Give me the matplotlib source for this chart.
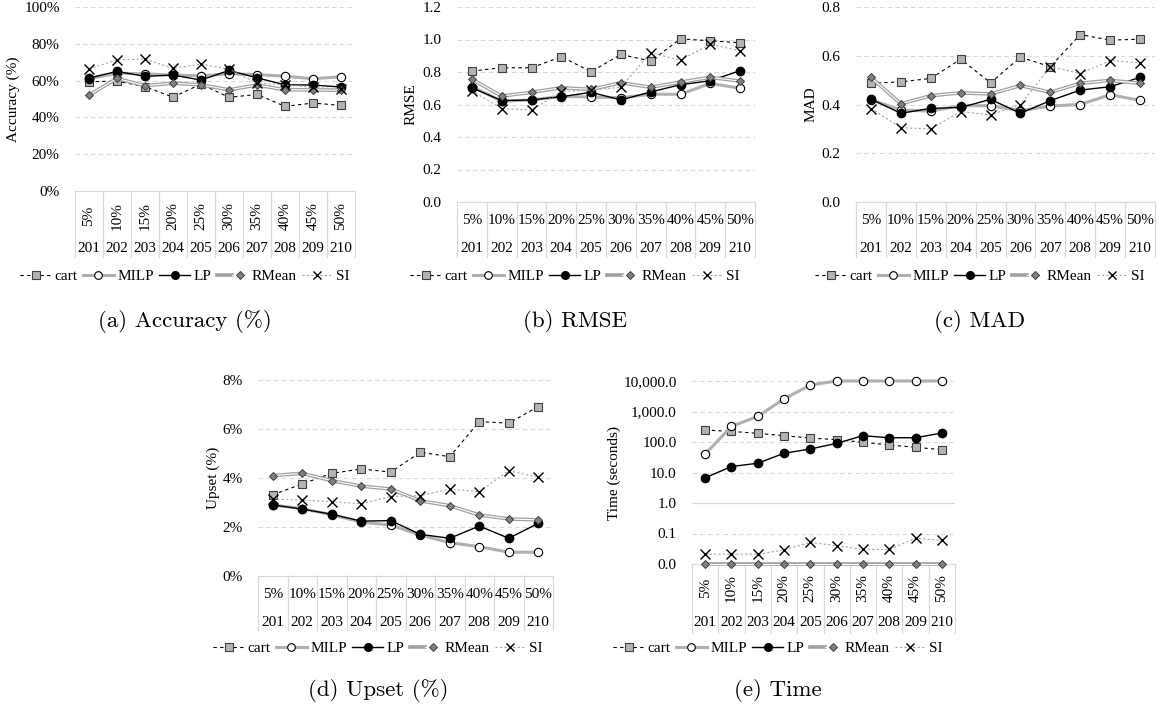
import matplotlib
matplotlib.use("Agg")
import matplotlib.pyplot as plt
from matplotlib.lines import Line2D
from matplotlib.legend_handler import HandlerTuple
from matplotlib.transforms import blended_transform_factory
from matplotlib.ticker import FixedLocator, FuncFormatter, NullLocator

plt.rcParams['font.family'] = ['Liberation Serif', 'DejaVu Serif']

ids = ['201', '202', '203', '204', '205', '206', '207', '208', '209', '210']
pcts = ['5%', '10%', '15%', '20%', '25%', '30%', '35%', '40%', '45%', '50%']

# accuracy (%)
acc_cart = [59.4, 59.7, 56.7, 51.0, 58.1, 50.9, 52.5, 46.0, 47.8, 46.5]
acc_milp = [61.0, 64.0, 63.7, 63.0, 62.6, 63.7, 63.3, 62.4, 61.0, 62.1]
acc_lp = [61.4, 65.0, 62.3, 63.0, 60.3, 65.5, 61.5, 57.7, 57.6, 56.5]
acc_rmean = [52.1, 61.2, 57.2, 58.6, 57.7, 55.0, 57.6, 55.0, 55.0, 54.7]
acc_si = [66.4, 71.3, 71.7, 66.6, 69.0, 66.2, 58.6, 57.7, 56.3, 55.4]

# RMSE
rmse_cart = [0.806, 0.826, 0.826, 0.894, 0.802, 0.908, 0.867, 1.004, 0.992, 0.980]
rmse_milp = [0.71, 0.62, 0.628, 0.65, 0.646, 0.642, 0.663, 0.663, 0.73, 0.70]
rmse_lp = [0.703, 0.624, 0.628, 0.648, 0.675, 0.628, 0.677, 0.722, 0.746, 0.808]
rmse_rmean = [0.755, 0.652, 0.675, 0.703, 0.693, 0.734, 0.706, 0.738, 0.767, 0.744]
rmse_si = [0.685, 0.575, 0.566, 0.679, 0.689, 0.706, 0.918, 0.873, 0.971, 0.930]

# MAD
mad_cart = [0.487, 0.493, 0.507, 0.586, 0.489, 0.594, 0.555, 0.687, 0.664, 0.668]
mad_milp = [0.42, 0.377, 0.373, 0.395, 0.395, 0.375, 0.394, 0.400, 0.440, 0.417]
mad_lp = [0.422, 0.364, 0.384, 0.388, 0.421, 0.364, 0.416, 0.459, 0.473, 0.511]
mad_rmean = [0.511, 0.403, 0.436, 0.448, 0.443, 0.478, 0.450, 0.487, 0.499, 0.487]
mad_si = [0.383, 0.305, 0.300, 0.371, 0.357, 0.400, 0.555, 0.527, 0.580, 0.571]

# upset (%)
ups_cart = [3.31, 3.76, 4.19, 4.37, 4.24, 5.05, 4.87, 6.30, 6.24, 6.91]
ups_milp = [2.90, 2.75, 2.50, 2.20, 2.08, 1.67, 1.36, 1.20, 0.97, 0.97]
ups_lp = [2.90, 2.73, 2.52, 2.24, 2.26, 1.70, 1.54, 2.04, 1.54, 2.15]
ups_rmean = [4.10, 4.19, 3.89, 3.67, 3.55, 3.07, 2.87, 2.49, 2.33, 2.29]
ups_si = [3.14, 3.10, 3.03, 2.95, 3.24, 3.28, 3.55, 3.44, 4.30, 4.03]

# time (seconds)
time_cart = [246, 223, 192, 161, 135, 119, 98, 80, 67, 56]
time_milp = [40, 324, 690, 2590, 7400, 10000, 10000, 10000, 10000, 10000]
time_lp = [6.7, 15.7, 20.1, 42.7, 59, 90.5, 161, 138, 138, 197]
time_rmean = [0.01, 0.01, 0.01, 0.01, 0.01, 0.01, 0.01, 0.01, 0.01, 0.01]
time_si = [0.021, 0.021, 0.021, 0.029, 0.051, 0.040, 0.030, 0.030, 0.070, 0.059]

W, H = 1159, 717
fig = plt.figure(figsize=(W / 100, H / 100), dpi=100)

FS = 11
GRID = '#d9d9d9'
xs = list(range(10))


def box(l, r, t, b):
    return [l / W, 1 - b / H, (r - l) / W, (b - t) / H]


def draw_series(ax, cart, milp, lp, rmean, si, clip=True):
    ax.plot(xs, cart, color='black', ls=(0, (3, 3)), lw=0.8, marker='s', ms=6,
            mfc='#b3b3b3', mec='#404040', mew=0.8, zorder=3, clip_on=clip)
    ax.plot(xs, milp, color='#b0b0b0', lw=2.2, marker='o', ms=6,
            mfc='white', mec='black', mew=0.8, zorder=4, clip_on=clip)
    ax.plot(xs, lp, color='black', lw=1.0, marker='o', ms=6,
            mfc='black', mec='black', zorder=5, clip_on=clip)
    ax.plot(xs, rmean, color='#a0a0a0', lw=2.6, zorder=6, clip_on=clip)
    ax.plot(xs, rmean, color='white', lw=0.8, marker='D', ms=4.5,
            mfc='#808080', mec='#404040', mew=0.7, zorder=6, clip_on=clip)
    ax.plot(xs, si, color='#a6a6a6', ls=(0, (2, 2)), lw=0.8, marker='x', ms=6.5,
            mec='black', mew=1.0, zorder=7, clip_on=clip)


def draw_table(ax, rot, pct_dy, num_dy, depth):
    h = ax.bbox.height
    tr = blended_transform_factory(ax.transData, ax.transAxes)
    for k in range(11):
        ax.add_line(Line2D([k - 0.5, k - 0.5], [0, -depth / h], transform=tr,
                           color=GRID, lw=0.9, clip_on=False))
    for i in xs:
        ax.text(i, -pct_dy / h, pcts[i], transform=tr, ha='center', va='center',
                rotation=90 if rot else 0, fontsize=FS)
        ax.text(i, -num_dy / h, ids[i], transform=tr, ha='center', va='center',
                fontsize=FS)


def style(ax, ylabel, lx):
    ax.set_xlim(-0.5, 9.5)
    ax.xaxis.set_major_locator(NullLocator())
    for s in ['top', 'right', 'left']:
        ax.spines[s].set_visible(False)
    ax.spines['bottom'].set_color(GRID)
    ax.tick_params(axis='y', length=0, labelsize=FS, pad=11)
    ax.yaxis.grid(True, color=GRID, ls=(0, (4, 3)), lw=0.8)
    ax.set_axisbelow(True)
    ax.set_ylabel(ylabel, fontsize=FS)
    ax.yaxis.set_label_coords(lx, 0.5)


def legend(cx, cy):
    hs = [
        Line2D([], [], color='black', ls=(0, (3, 3)), lw=0.8, marker='s', ms=5.5,
               mfc='#b3b3b3', mec='#404040', mew=0.8),
        Line2D([], [], color='#b0b0b0', lw=2.2, marker='o', ms=5.5, mfc='white',
               mec='black', mew=0.8),
        Line2D([], [], color='black', lw=1.0, marker='o', ms=5.5, mfc='black'),
        (Line2D([], [], color='#a0a0a0', lw=2.6),
         Line2D([], [], color='white', lw=0.8, marker='D', ms=4.5, mfc='#808080',
                mec='#404040', mew=0.7)),
        Line2D([], [], color='#a6a6a6', ls=(0, (2, 2)), lw=0.8, marker='x', ms=6,
               mec='black', mew=1.0),
    ]
    fig.legend(hs, ['cart', 'MILP', 'LP', 'RMean', 'SI'], loc='center',
               bbox_to_anchor=(cx / W, 1 - cy / H), ncol=5, frameon=False,
               fontsize=FS, handlelength=2.0, handletextpad=0.25,
               columnspacing=0.35, borderpad=0,
               handler_map={tuple: HandlerTuple(ndivide=None, pad=0)})


def caption(cx, cy, s):
    fig.text(cx / W, 1 - cy / H, s, ha='center', va='center', fontsize=16.5,
             family='cmr10')


# (a) Accuracy
ax = fig.add_axes(box(75, 355, 7, 191))
draw_series(ax, acc_cart, acc_milp, acc_lp, acc_rmean, acc_si)
ax.set_ylim(0, 100)
ax.set_yticks([0, 20, 40, 60, 80, 100])
ax.set_yticklabels(['0%', '20%', '40%', '60%', '80%', '100%'])
style(ax, 'Accuracy (%)', -0.196)
draw_table(ax, True, 25, 57, 66)
legend(185, 276)
caption(185, 322, '(a) Accuracy (%)')

# (b) RMSE
ax = fig.add_axes(box(457, 755, 7, 202))
draw_series(ax, rmse_cart, rmse_milp, rmse_lp, rmse_rmean, rmse_si)
ax.set_ylim(0, 1.2)
ax.set_yticks([0, 0.2, 0.4, 0.6, 0.8, 1.0, 1.2])
ax.yaxis.set_major_formatter(FuncFormatter(lambda v, p: '%.1f' % v))
style(ax, 'RMSE', -0.131)
draw_table(ax, False, 19, 46, 55)
legend(575, 276)
caption(575, 322, '(b) RMSE')

# (c) MAD
ax = fig.add_axes(box(856, 1155, 7, 202))
draw_series(ax, mad_cart, mad_milp, mad_lp, mad_rmean, mad_si)
ax.set_ylim(0, 0.8)
ax.set_yticks([0, 0.2, 0.4, 0.6, 0.8])
ax.yaxis.set_major_formatter(FuncFormatter(lambda v, p: '%.1f' % v))
style(ax, 'MAD', -0.127)
draw_table(ax, False, 19, 46, 55)
legend(980, 276)
caption(980, 322, '(c) MAD')

# (d) Upset
ax = fig.add_axes(box(258, 553, 380, 576))
draw_series(ax, ups_cart, ups_milp, ups_lp, ups_rmean, ups_si)
ax.set_ylim(0, 8)
ax.set_yticks([0, 2, 4, 6, 8])
ax.set_yticklabels(['0%', '2%', '4%', '6%', '8%'])
style(ax, 'Upset (%)', -0.129)
draw_table(ax, False, 19, 46, 54)
legend(378, 648)
caption(378, 690, '(d) Upset (%)')

# (e) Time, log scale
ax = fig.add_axes(box(692, 955, 381, 564))
ax.set_yscale('log')
draw_series(ax, time_cart, time_milp, time_lp, time_rmean, time_si, clip=False)
ax.set_ylim(0.01, 10000)
ax.yaxis.set_major_locator(FixedLocator([0.01, 0.1, 1, 10, 100, 1000, 10000]))
ax.yaxis.set_minor_locator(NullLocator())
ax.yaxis.set_major_formatter(FuncFormatter(lambda v, p: '{:,.1f}'.format(v)))
style(ax, 'Time (seconds)', -0.27)
ax.yaxis.grid(False)
for v in [0.1, 10, 100, 1000, 10000]:
    ax.axhline(v, color=GRID, ls=(0, (4, 3)), lw=0.8, zorder=0)
ax.axhline(1, color=GRID, lw=0.9, zorder=0)
draw_table(ax, True, 24, 59, 69)
legend(778, 648)
caption(778, 690, '(e) Time')

fig.savefig('out.png', dpi=100)
